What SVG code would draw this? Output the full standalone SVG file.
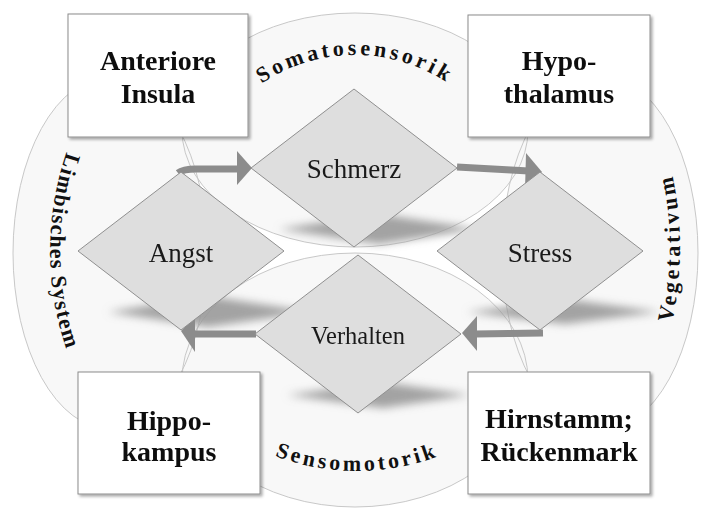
<svg xmlns="http://www.w3.org/2000/svg" width="701" height="510" viewBox="0 0 701 510">
  <style>
    .area { fill: #f8f8f8; stroke: none; }
    .area-edge { fill: none; stroke: #c8c8c8; stroke-width: 1; }
    .shade { fill: #999999; opacity: 0.9; }
    .state { fill: #dedede; stroke: #8f8f8f; stroke-width: 1; }
    .state-label { font-family: "Liberation Serif", serif; fill: #1a1a1a; text-anchor: middle; }
    .box { fill: #ffffff; stroke: #8c8c8c; stroke-width: 1; }
    .box-label { font-family: "Liberation Serif", serif; font-weight: bold; font-size: 28px; fill: #111; text-anchor: middle; }
    .ring-label { font-family: "Liberation Serif", serif; font-weight: bold; font-size: 22px; fill: #111; }
    .flow { fill: none; stroke: #8c8c8c; stroke-width: 7; stroke-linecap: butt; }
    .flow-head { fill: #8c8c8c; }
  </style>
  <defs>
    <filter id="soft" x="-20%" y="-80%" width="140%" height="260%">
      <feGaussianBlur stdDeviation="4.5"/>
    </filter>
    <filter id="boxShadow" x="-10%" y="-10%" width="125%" height="125%">
      <feGaussianBlur in="SourceAlpha" stdDeviation="1.5"/>
      <feOffset dx="2" dy="2" result="o"/>
      <feComponentTransfer><feFuncA type="linear" slope="0.35"/></feComponentTransfer>
      <feMerge><feMergeNode/><feMergeNode in="SourceGraphic"/></feMerge>
    </filter>
    <path id="arcTop" d="M 210.4 138.5 A 167 167 0 0 1 499.6 138.5"/>
    <path id="arcBottom" d="M 180.8 388.8 A 230 230 0 0 0 533.2 388.8"/>
    <path id="arcLeft" d="M 78.4 123 A 303 303 0 0 0 78.4 379"/>
    <path id="arcRight" d="M 647.2 395.9 A 350 350 0 0 0 647.2 100.1"/>
  </defs>

  <!-- four overlapping regions -->
  <g id="regions">
    <ellipse class="area" cx="355" cy="130" rx="173" ry="117"/>
    <ellipse class="area" cx="355" cy="380" rx="173" ry="127"/>
    <ellipse class="area" cx="110" cy="253" rx="97" ry="176"/>
    <ellipse class="area" cx="600" cy="253" rx="98" ry="178"/>
    <ellipse class="area-edge" cx="355" cy="130" rx="173" ry="117"/>
    <ellipse class="area-edge" cx="355" cy="380" rx="173" ry="127"/>
    <ellipse class="area-edge" cx="110" cy="253" rx="97" ry="176"/>
    <ellipse class="area-edge" cx="600" cy="253" rx="98" ry="178"/>
  </g>

  <!-- region labels -->
  <g id="region-labels">
    <text class="ring-label" letter-spacing="3.5"><textPath href="#arcTop" startOffset="50%" text-anchor="middle">Somatosensorik</textPath></text>
    <text class="ring-label" letter-spacing="3.2"><textPath href="#arcBottom" startOffset="50%" text-anchor="middle">Sensomotorik</textPath></text>
    <text class="ring-label" letter-spacing="1.3"><textPath href="#arcLeft" startOffset="50%" text-anchor="middle">Limbisches System</textPath></text>
    <text class="ring-label" letter-spacing="3"><textPath href="#arcRight" startOffset="50%" text-anchor="middle">Vegetativum</textPath></text>
  </g>

  <!-- cast shadows beneath the states -->
  <g id="shadows" filter="url(#soft)">
    <polygon class="shade" points="279,229 379,214 479,229 379,244"/>
    <polygon class="shade" points="108,312 208,296 312,312 208,327"/>
    <polygon class="shade" points="467,312 565,299 660,312 565,324"/>
    <polygon class="shade" points="287,395 383,382 470,395 383,408"/>
  </g>

  <!-- connectors -->
  <g id="connectors">
    <path class="flow" d="M 178 173 Q 183 169 196 169 L 239 169"/>
    <polygon class="flow-head" points="237,151 252,168 237,185"/>
    <path class="flow" d="M 457 167 L 529 171"/>
    <polygon class="flow-head" points="526,153 542,172 525,190"/>
    <path class="flow" d="M 543 333 L 475 334"/>
    <polygon class="flow-head" points="477,316 462,333 477,351"/>
    <path class="flow" d="M 256 334 L 192 334"/>
    <polygon class="flow-head" points="195,316 181,331 195,352"/>
  </g>

  <!-- states -->
  <g id="state-schmerz">
    <polygon class="state" points="354,89 457,168 354,247 251,168"/>
    <text class="state-label" x="354" y="178" font-size="27">Schmerz</text>
  </g>
  <g id="state-angst">
    <polygon class="state" points="181,172 284,251 181,330 78,251"/>
    <text class="state-label" x="181" y="262" font-size="27">Angst</text>
  </g>
  <g id="state-stress">
    <polygon class="state" points="540,172 643,251 540,330 437,251"/>
    <text class="state-label" x="540" y="262" font-size="27">Stress</text>
  </g>
  <g id="state-verhalten">
    <polygon class="state" points="358,255 461,334 358,413 255,334"/>
    <text class="state-label" x="358" y="344" font-size="24.5">Verhalten</text>
  </g>

  <!-- brain structures -->
  <g id="box-insula" filter="url(#boxShadow)">
    <rect class="box" x="68" y="14" width="180" height="123"/>
    <text class="box-label" x="158" y="70">Anteriore</text>
    <text class="box-label" x="158" y="103">Insula</text>
  </g>
  <g id="box-hypothalamus" filter="url(#boxShadow)">
    <rect class="box" x="468" y="15" width="182" height="122"/>
    <text class="box-label" x="559" y="70">Hypo-</text>
    <text class="box-label" x="559" y="103">thalamus</text>
  </g>
  <g id="box-hippokampus" filter="url(#boxShadow)">
    <rect class="box" x="78" y="372" width="182" height="122"/>
    <text class="box-label" x="169" y="430">Hippo-</text>
    <text class="box-label" x="169" y="461">kampus</text>
  </g>
  <g id="box-hirnstamm" filter="url(#boxShadow)">
    <rect class="box" x="468" y="372" width="182" height="122"/>
    <text class="box-label" x="559" y="428">Hirnstamm;</text>
    <text class="box-label" x="559" y="461">Rückenmark</text>
  </g>
</svg>
